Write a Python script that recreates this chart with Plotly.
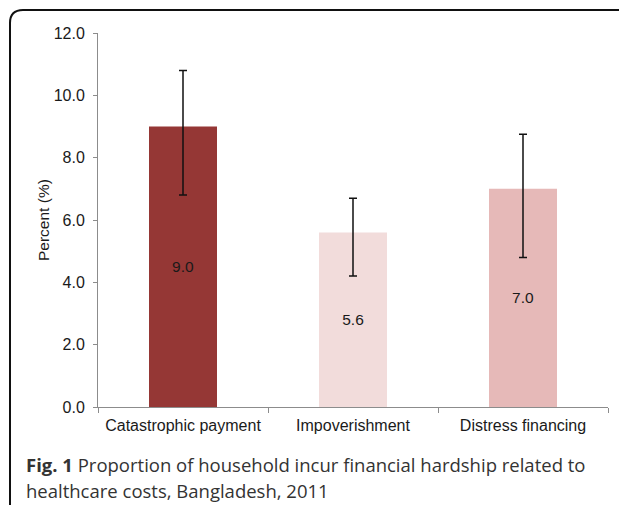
import plotly.graph_objects as go

categories = ["Catastrophic payment", "Impoverishment", "Distress financing"]
values = [9.0, 5.6, 7.0]
ci_low = [6.8, 4.2, 4.8]
ci_high = [10.8, 6.7, 8.75]
bar_colors = ["#953735", "#f2dcdb", "#e6b9b8"]
value_labels = ["9.0", "5.6", "7.0"]

# page body has an 8px margin; lay out in reference pixel coordinates
OFF = 8
W, H = 627 - OFF, 505 - OFF
PL, PR, PT, PB = 98, 608, 33, 407  # plot area in reference pixels
L, T = PL - OFF, PT - OFF
R, B = W - (PR - OFF), H - (PB - OFF)
pw, ph = PR - PL, PB - PT

def px(x):
    return (x - PL) / pw

def py(y):
    return (PB - y) / ph

fig = go.Figure()
fig.add_trace(go.Bar(
    x=categories,
    y=values,
    width=0.4,
    marker=dict(color=bar_colors, line=dict(width=0)),
    text=value_labels,
    textposition="inside",
    insidetextanchor="middle",
    textangle=0,
    insidetextfont=dict(family="Liberation Sans, Arial", size=15.5, color="#1a1a1a"),
    error_y=dict(
        type="data",
        symmetric=False,
        array=[h - v for h, v in zip(ci_high, values)],
        arrayminus=[v - l for v, l in zip(values, ci_low)],
        color="#111111",
        thickness=1.5,
        width=4,
    ),
    hoverinfo="skip",
))

axis_font = dict(family="Liberation Sans, Arial", size=16, color="#1a1a1a")
fig.update_layout(
    width=W,
    height=H,
    margin=dict(l=L, r=R, t=T, b=B, autoexpand=False),
    paper_bgcolor="white",
    plot_bgcolor="white",
    showlegend=False,
    xaxis=dict(
        showline=True,
        linecolor="#8c8c8c",
        linewidth=1,
        ticks="outside",
        tickson="boundaries",
        ticklen=5,
        tickcolor="#8c8c8c",
        tickfont=axis_font,
        ticklabelstandoff=4,
        showgrid=False,
        zeroline=False,
    ),
    yaxis=dict(
        range=[0, 12],
        dtick=2,
        tickformat=".1f",
        showline=True,
        linecolor="#8c8c8c",
        linewidth=1,
        ticks="outside",
        ticklen=4,
        tickcolor="#8c8c8c",
        tickfont=axis_font,
        ticklabelstandoff=5,
        showgrid=False,
        zeroline=False,
    ),
)

# y-axis title
fig.add_annotation(
    xref="paper", yref="paper", x=px(43), y=py(220),
    text="Percent (%)", textangle=-90, showarrow=False,
    font=dict(family="Liberation Sans, Arial", size=15.5, color="#1a1a1a"),
    xanchor="center", yanchor="middle",
)

# caption
cap_font = dict(family="Open Sans", size=18.5, color="#333333")
fig.add_annotation(
    xref="paper", yref="paper", x=px(24), y=py(464),
    text="<b>Fig. 1</b> Proportion of household incur financial hardship related to",
    showarrow=False, xanchor="left", yanchor="middle", font=cap_font,
)
fig.add_annotation(
    xref="paper", yref="paper", x=px(24), y=py(490),
    text="healthcare costs, Bangladesh, 2011",
    showarrow=False, xanchor="left", yanchor="middle", font=cap_font,
)

# rounded border frame (cropped on right/bottom)
x0, y0, r = px(10), py(10), 13
path = (
    f"M {x0},{py(506)} L {x0},{py(10 + r)} "
    f"Q {x0},{y0} {px(10 + r)},{y0} "
    f"L {px(622)},{y0} Q {px(626)},{y0} {px(626)},{py(14)}"
)
fig.add_shape(type="path", xref="paper", yref="paper", path=path,
              line=dict(color="#111111", width=2), layer="above")

fig.write_html("out.html")
